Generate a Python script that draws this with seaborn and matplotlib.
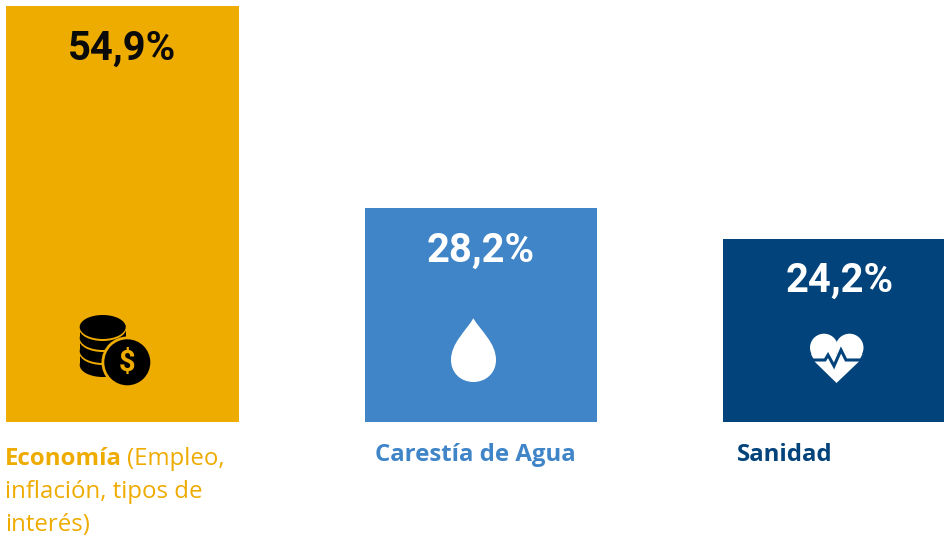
import numpy as np
import pandas as pd
import seaborn as sns
import matplotlib.pyplot as plt
from matplotlib.patches import Circle, Ellipse, PathPatch, Polygon, Rectangle
from matplotlib.path import Path

# Chart data
categories = ["Economía", "Carestía de Agua", "Sanidad"]
values = [54.9, 28.2, 24.2]
value_labels = ["54,9%", "28,2%", "24,2%"]
label_colors = ["#0A0A0A", "#FFFFFF", "#FFFFFF"]
bar_colors = ["#EEAB00", "#3F85C8", "#02437B"]

df = pd.DataFrame({"category": categories, "value": values})

W, H = 944, 537
fig = plt.figure(figsize=(W / 100, H / 100), dpi=100)
ax = fig.add_axes([0, 0, 1, 1])

sns.barplot(data=df, x="category", y="value", hue="category", palette=bar_colors,
            width=0.648, dodge=False, legend=False, saturation=1, ax=ax)

# pixel layout of the bars
px_per_unit = 416 / 54.9
ax.set_ylim(-(H - 422) / px_per_unit, 422 / px_per_unit)
ax.set_xlim(-122.5 / 358.5, (W - 122.5) / 358.5)
ax.axis("off")

for i, v in enumerate(values):
    ax.annotate(value_labels[i], xy=(i, v), xytext=(0, -42.5 * 0.72), textcoords="offset points",
                ha="center", va="center", fontsize=28.8, fontweight="bold", family="Roboto",
                color=label_colors[i])

# Overlay in pixel coords for icons and captions
ov = fig.add_axes([0, 0, 1, 1])
ov.set_xlim(0, W)
ov.set_ylim(H, 0)
ov.axis("off")
ov.patch.set_alpha(0)

# coins, painted bottom up with a yellow gap under each one
yellow, black = bar_colors[0], "#000000"
for n, cy in enumerate([365, 351, 338, 327]):
    if n > 0:
        ov.add_patch(Ellipse((102.7, cy + 1.5), 47.2, 25, fc=yellow, ec="none"))
    ov.add_patch(Ellipse((102.7, cy), 46, 24, fc=black, ec="none"))
    if n < 3:
        ov.add_patch(Rectangle((79.7, cy - 13), 46, 13, fc=black, ec="none"))
ov.add_patch(Circle((127.3, 362.3), 25.8, fc=yellow, ec="none"))
ov.add_patch(Circle((127.3, 362.3), 23, fc=black, ec="none"))
ov.text(127.3, 363, "$", ha="center", va="center", fontsize=21, fontweight="bold",
        family="Roboto", color=yellow)

# water drop
tip = (473.3, 318.3)
drop_verts = [tip, (466, 331), (451, 343), (451, 360),
              (451, 373), (461, 382), (473.3, 382),
              (486, 382), (496, 373), (496, 360),
              (496, 343), (481, 331), tip]
drop_codes = [Path.MOVETO] + [Path.CURVE4] * 12
ov.add_patch(PathPatch(Path(drop_verts, drop_codes), fc="white", ec="none"))

# heart with pulse
ov.add_patch(Circle((824, 347.7), 14, fc="white", ec="none"))
ov.add_patch(Circle((849.5, 347.7), 14, fc="white", ec="none"))
ov.add_patch(Polygon([(811, 354), (862.5, 354), (858.5, 362), (836.5, 383), (815, 362)],
                     closed=True, fc="white", ec="none"))
ov.plot([808, 825, 828, 834, 841, 846, 851, 866], [360, 360, 355, 366, 350, 360, 360, 360],
        color=bar_colors[2], lw=2.2, solid_joinstyle="miter")

# captions
cap = dict(family="Open Sans", fontsize=17.3, va="baseline")
ov.text(5, 465, "Economía", fontweight="bold", color=yellow, **cap)
ov.text(127.5, 465, "(Empleo,", color=yellow, **cap)
ov.text(5, 498, "inflación, tipos de", color=yellow, **cap)
ov.text(5, 531, "interés)", color=yellow, **cap)
ov.text(375, 461, categories[1], fontweight="bold", color=bar_colors[1], **cap)
ov.text(737, 461, categories[2], fontweight="bold", color=bar_colors[2], **cap)

fig.savefig("out.png", dpi=100)
